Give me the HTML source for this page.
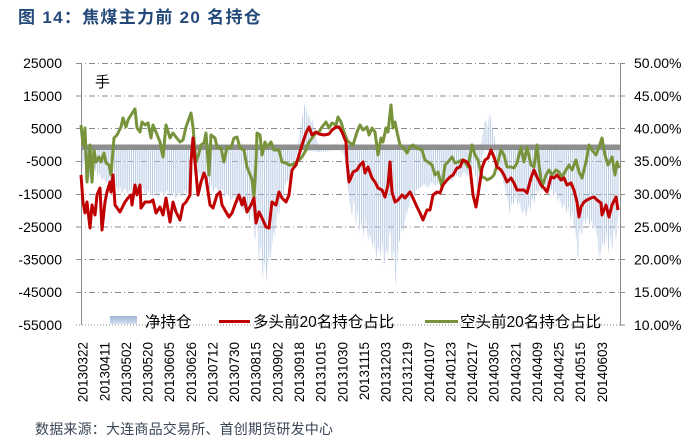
<!DOCTYPE html>
<html><head><meta charset="utf-8"><style>
html,body{margin:0;padding:0;background:#fff;}
svg{display:block;}
text{font-family:"Liberation Sans","Noto Sans CJK SC",sans-serif;}
</style></head><body>
<svg width="698" height="447" viewBox="0 0 698 447" xmlns="http://www.w3.org/2000/svg">
<defs>
<pattern id="bars" patternUnits="userSpaceOnUse" width="1.9" height="400">
<rect x="0" y="0" width="0.9" height="400" fill="#b4c8e3"/>
</pattern>
<linearGradient id="lg" x1="0" y1="0" x2="0" y2="1">
<stop offset="0" stop-color="#9db4d6"/><stop offset="1" stop-color="#d3dff0"/>
</linearGradient>
</defs>
<rect width="698" height="447" fill="#fff"/>
<text x="18" y="23" font-size="17" font-weight="bold" fill="#23497a" letter-spacing="1.3">图 14：焦煤主力前 20 名持仓</text>

<!-- gridlines -->
<g stroke="#8a8a8a" stroke-width="1" stroke-dasharray="6 3 1 3" fill="none">
<line x1="76" y1="63.5" x2="620" y2="63.5"/>
<line x1="76" y1="96" x2="620" y2="96"/>
<line x1="76" y1="128.5" x2="620" y2="128.5"/>
<line x1="76" y1="161.5" x2="620" y2="161.5"/>
<line x1="76" y1="194.5" x2="620" y2="194.5"/>
<line x1="76" y1="227" x2="620" y2="227"/>
<line x1="76" y1="259.5" x2="620" y2="259.5"/>
<line x1="76" y1="292.5" x2="620" y2="292.5"/>
<line x1="76" y1="325" x2="620" y2="325" stroke-dasharray="1 2"/>
</g>

<!-- bars negative -->
<polygon fill="url(#bars)" points="81,147 620,147 620,150 618,220 616,240 614,228 612,250 610,235 608,255 606,232 604,250 602,240 600,262 598,245 596,225 594,232 592,218 590,228 588,215 586,225 584,218 582,235 580,228 578,260 576,235 574,226 572,210 570,220 568,205 566,215 564,200 562,212 560,195 558,205 556,190 554,198 552,188 550,195 548,183 546,188 544,180 542,192 540,183 538,195 536,190 534,205 532,198 530,212 528,205 526,220 524,205 522,218 520,200 518,208 516,195 514,205 512,200 510,215 507,195 504,185 501,175 498,165 495,152 484,150 482,158 480,165 478,190 476,178 472,165 468,176 464,172 460,178 456,175 452,181 448,178 444,184 440,180 436,186 432,182 428,188 424,184 420,188 416,190 413,202 410,198 408,215 406,210 404,232 402,225 400,240 398,245 396,288 394,250 392,262 390,230 388,255 386,250 384,266 382,240 380,258 378,245 376,262 374,238 372,250 370,230 368,245 366,215 364,240 362,220 360,235 358,210 356,225 354,200 352,215 350,205 348,190 346,165 344,155 340,150 320,152 300,150 298,152 295,160 292,165 289,182 286,180 283,200 281,195 279,218 277,210 275,238 273,230 271,262 269,250 267,284 265,258 263,280 261,245 259,262 257,225 255,240 252,208 249,222 246,204 243,212 240,198 237,205 234,195 231,202 228,192 225,198 222,188 219,194 216,186 213,192 211,184 209,190 207,180 205,186 203,175 201,182 199,170 197,176 195,165 193,150 191,178 188,196 185,190 182,197 179,193 176,199 173,192 170,198 167,189 164,196 161,190 158,198 155,191 152,197 149,190 146,196 143,188 140,195 137,190 134,196 131,189 128,194 125,188 122,193 120,187 118,192 116,186 114,190 112,183 110,188 108,180 106,185 104,176 102,182 100,172 98,178 96,168 94,176 92,170 90,180 88,165 86,178 84,160 82,170 81,150"/>
<!-- bars positive -->
<polygon fill="url(#bars)" points="298,147 300,130 302,118 304,108 305,103 306,115 307,105 308,120 309,110 311,125 313,118 315,135 317,140 319,147"/>
<polygon fill="url(#bars)" points="480,147 482,140 484,125 486,118 488,130 489,115 490,113 491,120 492,125 494,135 496,147"/>

<!-- zero band -->
<rect x="81" y="144.5" width="539" height="5.5" fill="#8e8e8e"/>

<!-- axes -->
<g stroke="#8a8a8a" stroke-width="1">
<line x1="81.5" y1="63" x2="81.5" y2="325"/>
<line x1="620.5" y1="63" x2="620.5" y2="325"/>
<line x1="620" y1="63.5" x2="625" y2="63.5"/>
<line x1="620" y1="96" x2="625" y2="96"/>
<line x1="620" y1="128.5" x2="625" y2="128.5"/>
<line x1="620" y1="161.5" x2="625" y2="161.5"/>
<line x1="620" y1="194.5" x2="625" y2="194.5"/>
<line x1="620" y1="227" x2="625" y2="227"/>
<line x1="620" y1="259.5" x2="625" y2="259.5"/>
<line x1="620" y1="292.5" x2="625" y2="292.5"/>
<line x1="620" y1="325" x2="625" y2="325"/>
</g>

<!-- green line -->
<polyline fill="none" stroke="#77933c" stroke-width="3" stroke-linejoin="round" points="81,125 83,145 85,128 87,182 90,145 92,182 94,150 96,162 99,157 101,162 104,153 106,163 109,165 111,175 114,138 117,135 121,127 123,118 126,127 128,120 131,115 135,109 137,128 140,132 142,122 145,125 148,123 151,138 153,125 156,132 160,142 163,157 166,125 170,138 173,133 176,137 180,142 183,140 186,127 191,113 193,127 196,162 199,153 201,145 204,143 206,133 209,175 211,135 215,138 217,147 221,148 224,162 227,147 231,148 234,138 237,137 240,148 244,150 247,167 251,177 252,180 254,197 256,162 257,133 260,135 262,155 265,142 267,147 271,142 274,150 279,150 282,162 286,163 289,165 292,165 296,162 299,160 302,157 306,150 309,142 312,138 316,133 319,132 322,127 326,122 329,128 332,123 336,125 338,117 341,122 344,132 347,140 350,143 353,145 357,132 360,125 363,130 367,127 369,135 372,128 375,132 378,155 381,138 383,142 386,128 388,132 391,105 393,128 395,122 397,132 400,145 403,147 407,153 410,147 413,145 417,148 422,150 425,160 428,162 432,165 435,175 438,172 442,187 445,165 448,162 452,157 455,163 458,162 462,160 465,162 468,167 472,145 475,155 478,160 482,177 485,178 487,180 491,178 494,175 497,165 501,150 504,155 507,167 511,167 514,168 517,163 521,147 524,162 527,147 531,165 534,167 537,145 539,165 542,187 546,175 549,170 552,175 556,170 559,172 562,177 566,170 569,165 572,170 576,160 579,172 582,178 586,162 589,145 592,150 596,155 599,147 602,138 605,155 608,165 612,157 615,175 617,162 619,168"/>

<!-- red line -->
<polyline fill="none" stroke="#c00000" stroke-width="3" stroke-linejoin="round" points="81,175 83,202 85,213 87,202 90,228 92,205 95,215 97,195 100,188 102,230 105,202 107,192 110,182 111,192 113,175 115,205 120,212 125,202 128,198 131,195 132,205 135,185 137,195 140,185 141,208 145,202 150,202 153,200 156,213 160,207 163,215 166,198 170,222 173,202 176,212 180,220 183,205 186,202 190,195 191,162 193,138 195,162 198,195 201,182 204,173 206,178 210,205 213,208 217,195 220,192 222,205 226,212 229,217 232,213 236,202 239,195 242,205 244,198 247,212 251,205 254,198 256,223 259,212 262,218 266,227 269,228 272,202 276,205 279,192 282,198 286,202 289,195 292,170 296,165 299,155 302,145 306,133 309,127 312,135 316,132 319,134 324,135 329,134 332,130 336,127 339,127 342,132 346,142 347,162 349,182 352,175 353,172 357,170 360,165 363,162 365,173 368,167 372,178 375,182 378,188 382,190 385,197 388,185 390,162 392,192 395,202 398,200 402,195 405,198 410,192 413,198 417,207 420,213 423,220 427,210 430,210 433,195 437,192 440,193 443,185 447,180 450,177 453,175 457,168 460,167 463,160 467,162 470,167 473,195 476,207 478,195 482,168 485,160 488,158 491,150 494,157 497,167 501,170 504,175 507,182 511,178 514,183 517,190 521,190 524,190 527,193 531,178 534,170 537,177 541,185 544,188 547,192 551,177 554,178 557,175 561,180 564,178 567,185 571,183 574,190 577,202 579,217 581,207 584,202 587,200 591,198 594,197 597,200 601,203 602,215 606,205 609,217 612,205 616,197 618,210"/>

<text x="95" y="87" font-size="15" fill="#000">手</text>

<!-- left tick labels -->
<g font-size="14" fill="#000" text-anchor="end">
<text x="62" y="68">25000</text>
<text x="62" y="101">15000</text>
<text x="62" y="133.5">5000</text>
<text x="62" y="166">-5000</text>
<text x="62" y="199">-15000</text>
<text x="62" y="232">-25000</text>
<text x="62" y="264.5">-35000</text>
<text x="62" y="297">-45000</text>
<text x="62" y="330">-55000</text>
</g>
<!-- right tick labels -->
<g font-size="14" fill="#000">
<text x="634" y="68">50.00%</text>
<text x="634" y="101">45.00%</text>
<text x="634" y="133.5">40.00%</text>
<text x="634" y="166">35.00%</text>
<text x="634" y="199">30.00%</text>
<text x="634" y="232">25.00%</text>
<text x="634" y="264.5">20.00%</text>
<text x="634" y="297">15.00%</text>
<text x="634" y="330">10.00%</text>
</g>

<!-- legend -->
<rect x="110" y="316" width="27" height="8" fill="url(#lg)"/>
<text x="145" y="327" font-size="15.5" fill="#000">净持仓</text>
<line x1="219" y1="321.5" x2="250" y2="321.5" stroke="#c00000" stroke-width="3"/>
<text x="253" y="327" font-size="15.5" fill="#000">多头前20名持仓占比</text>
<line x1="425" y1="321.5" x2="458" y2="321.5" stroke="#77933c" stroke-width="3"/>
<text x="460" y="327" font-size="15.5" fill="#000">空头前20名持仓占比</text>

<!-- x labels -->
<g font-size="13.5" fill="#000" text-anchor="end">
<text transform="translate(87.7,342) rotate(-90)">20130322</text>
<text transform="translate(109.3,342) rotate(-90)">20130411</text>
<text transform="translate(131,342) rotate(-90)">20130502</text>
<text transform="translate(152.6,342) rotate(-90)">20130520</text>
<text transform="translate(174.2,342) rotate(-90)">20130605</text>
<text transform="translate(195.9,342) rotate(-90)">20130626</text>
<text transform="translate(217.5,342) rotate(-90)">20130712</text>
<text transform="translate(239.1,342) rotate(-90)">20130730</text>
<text transform="translate(260.7,342) rotate(-90)">20130815</text>
<text transform="translate(282.4,342) rotate(-90)">20130902</text>
<text transform="translate(304,342) rotate(-90)">20130918</text>
<text transform="translate(325.6,342) rotate(-90)">20131015</text>
<text transform="translate(347.3,342) rotate(-90)">20131030</text>
<text transform="translate(368.9,342) rotate(-90)">20131115</text>
<text transform="translate(390.5,342) rotate(-90)">20131203</text>
<text transform="translate(412.1,342) rotate(-90)">20131219</text>
<text transform="translate(433.8,342) rotate(-90)">20140107</text>
<text transform="translate(455.4,342) rotate(-90)">20140123</text>
<text transform="translate(477,342) rotate(-90)">20140217</text>
<text transform="translate(498.7,342) rotate(-90)">20140305</text>
<text transform="translate(520.3,342) rotate(-90)">20140321</text>
<text transform="translate(541.9,342) rotate(-90)">20140409</text>
<text transform="translate(563.5,342) rotate(-90)">20140425</text>
<text transform="translate(585.2,342) rotate(-90)">20140515</text>
<text transform="translate(606.8,342) rotate(-90)">20140603</text>
</g>

<text x="35" y="434" font-size="14" fill="#3a4656" letter-spacing="0.2">数据来源：大连商品交易所、首创期货研发中心</text>
</svg>
</body></html>
